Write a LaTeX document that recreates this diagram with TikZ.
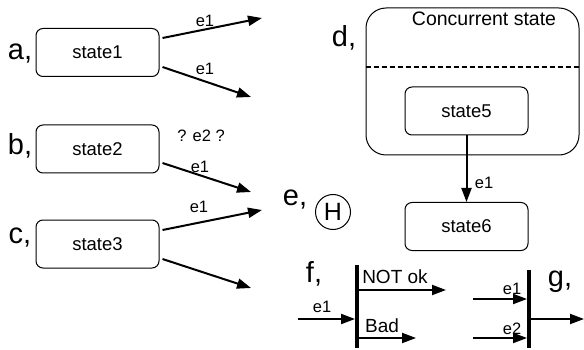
\documentclass[tikz,border=0pt]{standalone}
\usepackage{fontspec}
\setmainfont{Liberation Sans}
\usetikzlibrary{arrows.meta}
\begin{document}
\begin{tikzpicture}[x=1pt,y=-1pt,
  statebox/.style={draw, rounded corners=7pt, minimum width=123pt, minimum height=48pt,
    inner sep=0pt, line width=1pt, font=\fontsize{18.5}{18.5}\selectfont},
  tr/.style={-{Triangle[length=14pt,width=10pt]}, line width=2pt},
  lbl/.style={font=\fontsize{29}{29}\selectfont, inner sep=0pt},
  ev/.style={font=\fontsize{16.5}{16.5}\selectfont, inner sep=0pt},
  bar/.style={fill=black, minimum width=3.5pt, inner sep=0pt}]
\useasboundingbox (0,0) rectangle (584,350);

% simple states with outgoing transitions
\node[statebox] (s1) at (97.5,52.5) {state1};
\node[statebox] (s2) at (97.5,149) {state2};
\node[statebox] (s3) at (97.5,244) {state3};
\node[lbl] (la) at (20,54) {a,};
\node[lbl] (lb) at (20,146) {b,};
\node[lbl] (lc) at (20,238) {c,};

\coordinate (t1) at (262,18);
\coordinate (t2) at (251,97);
\coordinate (t3) at (251,192);
\coordinate (t4) at (262,210);
\coordinate (t5) at (251,288);
\draw[tr] ([shift={(3,-14.5)}]s1.east) -- (t1);
\draw[tr] ([shift={(3,14.5)}]s1.east) -- (t2);
\draw[tr] ([shift={(3,14)}]s2.east) -- (t3);
\draw[tr] ([shift={(3,-14)}]s3.east) -- (t4);
\draw[tr] ([shift={(3,15)}]s3.east) -- (t5);
\node[ev] (e1a) at (205,21) {e1};
\node[ev] (e1b) at (205,69) {e1};
\node[ev] (q2) at (201,136) {? e2 ?};
\node[ev] (e1c) at (200,167) {e1};
\node[ev] (e1d) at (199,207) {e1};

% concurrent state
\node[draw, rounded corners=20pt, minimum width=213pt, minimum height=147pt,
  inner sep=0pt, line width=1pt] (cs) at (472.5,81.5) {};
\node[font=\fontsize{19.5}{19.5}\selectfont, inner sep=0pt] (cst) at (484,19) {Concurrent state};
\draw[line width=1.5pt, dash pattern=on 5pt off 3pt] (cs.west |- 0,67) -- (cs.east |- 0,67);
\node[lbl] (ld) at (344,38) {d,};
\node[statebox] (s5) at (466.5,111) {state5};
\node[statebox] (s6) at (466.5,226.5) {state6};
\draw[tr] (s5) -- (s6);
\node[ev] (e1e) at (484,183) {e1};

% history state
\node[lbl] (le) at (295,200) {e,};
\node[draw, circle, minimum size=35pt, inner sep=0pt, line width=1pt,
  font=\fontsize{25}{25}\selectfont] (h) at (333,212) {H};

% fork / junction
\node[lbl] (lf) at (314,274) {f,};
\node[bar, minimum height=83pt] (fb) at (357,306.5) {};
\coordinate (fin) at (298,319);
\coordinate (fo1) at (446,290);
\coordinate (fo2) at (416,338);
\draw[tr] (fin) -- (fin -| fb.west);
\draw[tr] (fb.east |- fo1) -- (fo1);
\draw[tr] (fb.east |- fo2) -- (fo2);
\node[ev] (e1f) at (322,307) {e1};
\node[font=\fontsize{19}{19}\selectfont, inner sep=0pt] (nok) at (395,277) {NOT ok};
\node[font=\fontsize{19}{19}\selectfont, inner sep=0pt] (bad) at (382,326) {Bad};

% join
\node[lbl] (lg) at (560,282) {g,};
\node[bar, minimum height=78pt] (gb) at (529,309) {};
\coordinate (gi1) at (473,299);
\coordinate (gi2) at (473,338);
\coordinate (go) at (584,319);
\draw[tr] (gi1) -- (gi1 -| gb.west);
\draw[tr] (gi2) -- (gi2 -| gb.west);
\draw[tr] (gb.east |- go) -- (go);
\node[ev] (e1g) at (512,289) {e1};
\node[ev] (e2g) at (512,329) {e2};
\end{tikzpicture}
\end{document}
